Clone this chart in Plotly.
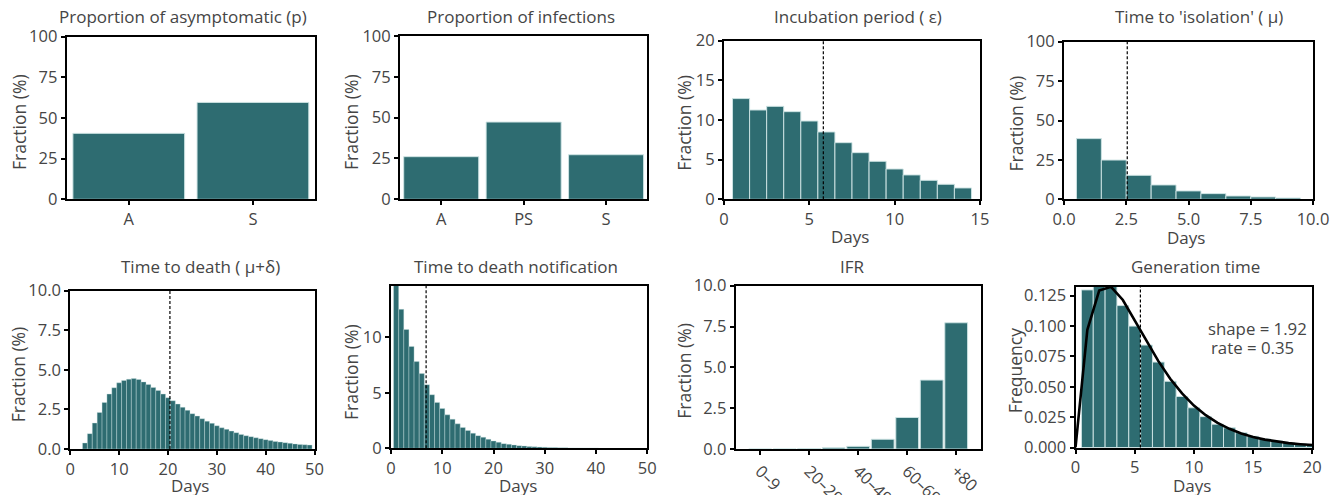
import plotly.graph_objects as go

W, H = 1338, 495

# ---------------- data ----------------
asym_cats = ["A", "S"]
asym_vals = [40.5, 59.5]

inf_cats = ["A", "PS", "S"]
inf_vals = [26.1, 47.3, 27.3]

incub_days = list(range(1, 15))
incub_vals = [12.7, 11.26, 11.72, 11.05, 9.87, 8.49, 7.14, 5.88, 4.79, 3.82, 3.07, 2.39, 1.89, 1.43]
incub_mean = 5.82

iso_days = list(range(1, 10))
iso_vals = [38.5, 24.9, 15.2, 9.1, 5.3, 3.6, 2.1, 1.5, 0.8]
iso_mean = 2.54

death_days = list(range(3, 50))
death_vals = [0.38, 0.97, 1.64, 2.31, 2.94, 3.47, 3.87, 4.18, 4.33, 4.41, 4.45, 4.39, 4.24,
              4.08, 3.89, 3.70, 3.47, 3.24, 3.05, 2.84, 2.63, 2.44, 2.23, 2.08, 1.91, 1.76,
              1.62, 1.47, 1.34, 1.24, 1.13, 1.03, 0.92, 0.84, 0.78, 0.71, 0.65, 0.59, 0.53,
              0.48, 0.44, 0.40, 0.36, 0.32, 0.29, 0.27, 0.25]
death_mean = 20.4

notif_days = list(range(1, 41))
notif_vals = [14.9, 12.5, 10.69, 9.16, 7.80, 6.72, 5.72, 4.82, 4.13, 3.58, 3.01, 2.62, 2.20,
              1.87, 1.60, 1.36, 1.14, 0.99, 0.81, 0.66, 0.54, 0.42, 0.36, 0.30, 0.24, 0.21,
              0.17, 0.14, 0.12, 0.10, 0.08, 0.065, 0.055, 0.045, 0.037, 0.03, 0.025, 0.02,
              0.016, 0.013]
notif_mean = 6.85

ifr_cats = ["0–9", "10–19", "20–29", "30–39", "40–49", "50–59", "60–69", "70–79", "+80"]
ifr_vals = [0.0016, 0.0070, 0.031, 0.084, 0.161, 0.595, 1.93, 4.22, 7.73]
ifr_ticks = ["0–9", "20–29", "40–49", "60–69", "+80"]

gen_days = list(range(1, 21))
gen_vals = [0.1297, 0.1330, 0.1330, 0.1168, 0.0999, 0.0843, 0.0703, 0.0545, 0.0420, 0.0327,
            0.0254, 0.0192, 0.0162, 0.0122, 0.0092, 0.0070, 0.0054, 0.0041, 0.0030, 0.0024]
gen_fit_days = list(range(0, 21))
gen_fit_vals = [0.0, 0.0969, 0.1292, 0.1322, 0.1214, 0.1050, 0.0875, 0.0711, 0.0566, 0.0445,
                0.0345, 0.0266, 0.0203, 0.0154, 0.0116, 0.0087, 0.0065, 0.0049, 0.0036,
                0.0027, 0.0020]
gen_mean = 5.48

# ---------------- style ----------------
TEAL = "rgb(46,108,113)"
EDGE = "rgba(205,228,228,0.95)"
TXT = "#454545"
FONT = "Open Sans"
FS_TICK = 16.5

# panel pixel boxes: (x0, x1, ytop, ybottom)
boxes = [
    (66.7, 315.0, 36.5, 199.3),
    (400.0, 647.3, 36.0, 199.3),
    (724.0, 980.0, 40.7, 199.3),
    (1064.0, 1313.0, 41.7, 199.3),
    (70.3, 314.5, 290.7, 449.0),
    (391.0, 647.3, 286.0, 448.3),
    (735.7, 980.7, 285.7, 449.0),
    (1075.5, 1312.3, 286.5, 447.5),
]

def px(x):
    return x / W

def py(y):
    return 1 - y / H

fig = go.Figure()

def bar(i, x, y, width, lw=1.0):
    n = "" if i == 1 else str(i)
    fig.add_trace(go.Bar(x=x, y=y, width=width, marker=dict(color=TEAL, line=dict(color=EDGE, width=lw)),
                         xaxis="x" + n, yaxis="y" + n, showlegend=False))

bar(1, asym_cats, asym_vals, 0.9)
bar(2, inf_cats, inf_vals, 0.91)
bar(3, incub_days, incub_vals, 1.0)
bar(4, iso_days, iso_vals, 1.0)
bar(5, death_days, death_vals, 1.0, lw=0.4)
bar(6, notif_days, notif_vals, 1.0, lw=0.4)
bar(7, ifr_cats, ifr_vals, 0.93)
bar(8, gen_days, gen_vals, 1.0)
fig.add_trace(go.Scatter(x=gen_fit_days, y=gen_fit_vals, mode="lines", line=dict(color="black", width=2.6),
                         xaxis="x8", yaxis="y8", showlegend=False))

axis_common = dict(showline=True, linecolor="black", linewidth=2, mirror=True, ticks="outside",
                   ticklen=4, tickwidth=1.5, tickcolor="black", showgrid=False, zeroline=False,
                   automargin=False, fixedrange=True,
                   tickfont=dict(family=FONT, size=FS_TICK, color=TXT))

xcfg = [
    dict(type="category", range=[-0.5, 1.5]),
    dict(type="category", range=[-0.5, 2.5]),
    dict(range=[0, 15], tickvals=[0, 5, 10, 15]),
    dict(range=[0, 10], tickvals=[0, 2.5, 5, 7.5, 10], tickformat=".1f"),
    dict(range=[0, 50], tickvals=[0, 10, 20, 30, 40, 50]),
    dict(range=[0, 50], tickvals=[0, 10, 20, 30, 40, 50]),
    dict(type="category", range=[-1, 9], tickvals=ifr_ticks, ticktext=ifr_ticks, tickangle=45),
    dict(range=[0, 20], tickvals=[0, 5, 10, 15, 20]),
]
ycfg = [
    dict(range=[0, 100], tickvals=[0, 25, 50, 75, 100]),
    dict(range=[0, 100], tickvals=[0, 25, 50, 75, 100]),
    dict(range=[0, 20], tickvals=[0, 5, 10, 15, 20]),
    dict(range=[0, 100], tickvals=[0, 25, 50, 75, 100]),
    dict(range=[0, 10], tickvals=[0, 2.5, 5, 7.5, 10], tickformat=".1f"),
    dict(range=[0, 14.6], tickvals=[0, 5, 10]),
    dict(range=[0, 10], tickvals=[0, 2.5, 5, 7.5, 10], tickformat=".1f"),
    dict(range=[0, 0.1325], tickvals=[0, 0.025, 0.05, 0.075, 0.1, 0.125], tickformat=".3f"),
]

layout = dict(width=W, height=H, margin=dict(l=0, r=0, t=0, b=0, autoexpand=False),
              plot_bgcolor="white", paper_bgcolor="white",
              font=dict(family=FONT, color=TXT, size=FS_TICK))
for i, (b, xc, yc) in enumerate(zip(boxes, xcfg, ycfg), start=1):
    n = "" if i == 1 else str(i)
    x0, x1, yt, yb = b
    layout["xaxis" + n] = dict(axis_common, domain=[px(x0), px(x1)], anchor="y" + n, **xc)
    layout["yaxis" + n] = dict(axis_common, domain=[py(yb), py(yt)], anchor="x" + n, **yc)
fig.update_layout(**layout)

# mean lines
for i, m in [(3, incub_mean), (4, iso_mean), (5, death_mean), (6, notif_mean), (8, gen_mean)]:
    fig.add_shape(type="line", xref="x%d" % i, yref="y%d domain" % i, x0=m, x1=m, y0=0, y1=1,
                  line=dict(color="black", width=1.2, dash="3px,2px"), layer="above")

def ann(x, y, text, size, angle=0, xanchor="center"):
    fig.add_annotation(x=px(x), y=py(y), xref="paper", yref="paper", text=text, showarrow=False,
                       textangle=angle, xanchor=xanchor, yanchor="middle",
                       font=dict(family=FONT, size=size, color=TXT))

titles = [
    (183, 16.7, "Proportion of asymptomatic (p)"),
    (520.8, 16.7, "Proportion of infections"),
    (858.3, 16.7, "Incubation period ( ε)"),
    (1198.8, 16.7, "Time to 'isolation' ( μ)"),
    (200, 266.7, "Time to death ( μ+δ)"),
    (515.8, 266.7, "Time to death notification"),
    (852.5, 266.7, "IFR"),
    (1195.5, 266.7, "Generation time"),
]
for x, y, t in titles:
    ann(x, y, t, 17)

ylabels = [
    (18.3, 121.7, "Fraction (%)"), (350.3, 121.7, "Fraction (%)"), (683.7, 123, "Fraction (%)"),
    (1015.5, 124, "Fraction (%)"), (18.3, 374, "Fraction (%)"), (350.3, 371.7, "Fraction (%)"),
    (683.7, 371, "Fraction (%)"), (1014.5, 370.7, "Frequency"),
]
for x, y, t in ylabels:
    ann(x, y, t, 17.5, angle=-90)

for x, y in [(850, 236.7), (1186, 237), (190, 485), (517.7, 485), (1192, 485)]:
    ann(x, y, "Days", 17)

ann(1206, 328, "shape = 1.92", 16.8, xanchor="left")
ann(1209, 347.5, "rate = 0.35", 16.8, xanchor="left")

fig.write_html("out.html")
